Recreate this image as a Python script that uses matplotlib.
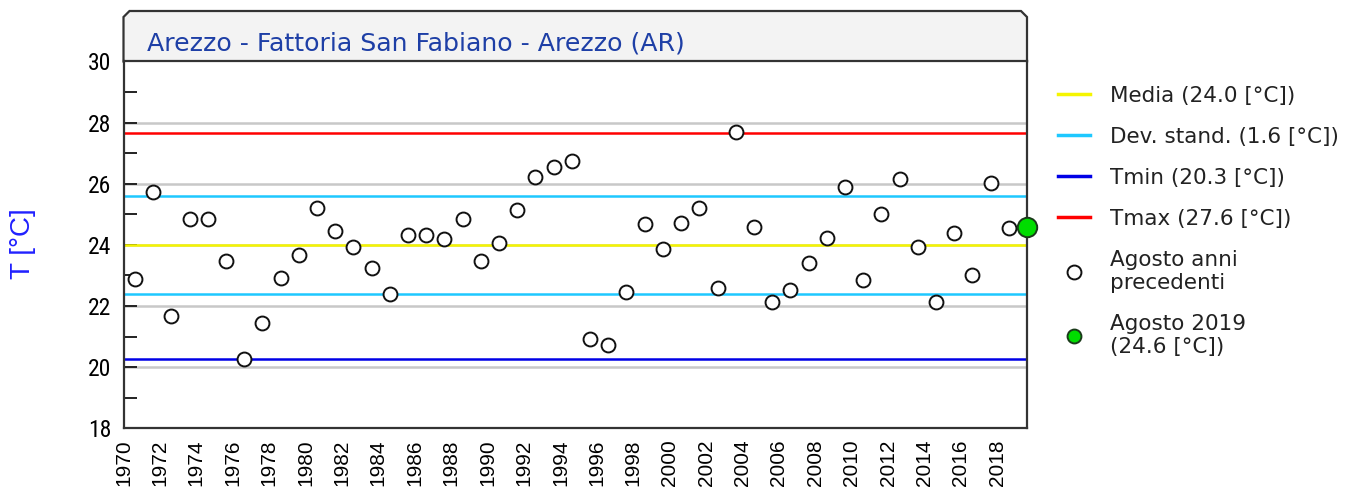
import numpy as np
import matplotlib
matplotlib.use('Agg')
import matplotlib.pyplot as plt
from matplotlib.patches import Polygon
from matplotlib.lines import Line2D

# ── dati ────────────────────────────────────────────────
YEARS = list(range(1970, 2020))
T_AUG = [22.88, 25.73, 21.67, 24.86, 24.86, 23.47, 20.26, 21.46, 22.93, 23.66,
         25.20, 24.47, 23.93, 23.26, 22.40, 24.33, 24.33, 24.20, 24.86, 23.47,
         24.07, 25.13, 26.22, 26.54, 26.73, 20.92, 20.73, 22.46, 24.67, 23.87,
         24.73, 25.21, 22.60, 27.69, 24.60, 22.13, 22.53, 23.40, 24.21, 25.88,
         22.86, 25.00, 26.15, 23.93, 22.13, 24.40, 23.00, 26.02, 24.55]
T_2019 = 24.60
MEDIA = 24.0
DEV_STD = 1.6
TMIN = 20.26
TMAX = 27.67

TITLE = 'Arezzo - Fattoria San Fabiano - Arezzo (AR)'
LABELS = ['Media (24.0 [°C])', 'Dev. stand. (1.6 [°C])', 'Tmin (20.3 [°C])',
          'Tmax (27.6 [°C])', 'Agosto anni\nprecedenti', 'Agosto 2019\n(24.6 [°C])']
X_TICKS = list(range(1970, 2019, 2))
Y_TICKS = list(range(18, 31, 2))

# posizione del punto: metà agosto
OFFSET = 0.63

C_MEDIA = '#f5f500'
C_STD = '#1ec8ff'
C_MIN = '#0000e6'
C_MAX = '#ff0000'
C_NOW = '#00dd00'

W, H = 1355, 494
fig = plt.figure(figsize=(W / 100, H / 100), dpi=100)

ax_l, ax_r, ax_t, ax_b = 123.5, 1027, 61.5, 428.3
ax = fig.add_axes([ax_l / W, 1 - ax_b / H, (ax_r - ax_l) / W, (ax_b - ax_t) / H])
ax.set_zorder(2)

# ── riquadro del titolo (angoli smussati) ──────────────
x0, x1 = ax_l / W, ax_r / W
y0, y1 = 1 - ax_t / H, 1 - 11 / H
cx, cy = 6 / W, 6 / H
box = Polygon([(x0, y0), (x0, y1 - cy), (x0 + cx, y1), (x1 - cx, y1), (x1, y1 - cy), (x1, y0)],
              closed=True, transform=fig.transFigure, facecolor='#f3f3f3',
              edgecolor='#333333', linewidth=1.6, zorder=1)
fig.patches.append(box)
fig.text(147 / W, 1 - 44 / H, TITLE, color='#1e3fa6', fontsize=18.2,
         family='DejaVu Sans', va='center', ha='left')

# ── griglia e linee di riferimento ─────────────────────
for v in Y_TICKS[1:-1]:
    ax.axhline(v, color='#c8c8c8', linewidth=1.8, zorder=1)

ax.axhline(MEDIA, color=C_MEDIA, linewidth=1.8, zorder=2)
ax.axhline(MEDIA + DEV_STD, color=C_STD, linewidth=1.8, zorder=2)
ax.axhline(MEDIA - DEV_STD, color=C_STD, linewidth=1.8, zorder=2)
ax.axhline(TMIN, color=C_MIN, linewidth=1.8, zorder=2)
ax.axhline(TMAX, color=C_MAX, linewidth=1.8, zorder=2)

xs = np.array(YEARS[:-1]) + OFFSET
ax.plot(xs, T_AUG, 'o', ms=10, mfc='white', mec='#111111', mew=1.4,
        linestyle='none', zorder=3)
ax.plot([YEARS[-1] + OFFSET], [T_2019], 'o', ms=14, mfc=C_NOW,
        mec='#1a3a1a', mew=1.4, linestyle='none', zorder=4, clip_on=False)

ax.set_xlim(1970, 2019 + OFFSET)
ax.set_ylim(18, 30)
ax.set_xticks(X_TICKS)
ax.set_xticklabels([str(y) for y in X_TICKS], rotation=90, family='Liberation Sans',
                   fontsize=15)
ax.set_yticks(Y_TICKS)
ax.set_yticks(list(range(19, 30, 2)), minor=True)
ax.set_yticklabels([str(v) for v in Y_TICKS], family='Roboto Condensed', fontsize=17)
ax.tick_params(axis='x', length=0, pad=8)
ax.tick_params(axis='y', which='both', direction='in', length=9, width=1.4, pad=9,
               color='#222222')

for side in ['left', 'right', 'bottom', 'top']:
    ax.spines[side].set_color('#333333')
    ax.spines[side].set_linewidth(1.6)

fig.text(23 / W, 1 - 244 / H, 'T [°C]', rotation=90, color='#2020ff', fontsize=20,
         family='Liberation Sans', va='center', ha='center')

# ── legenda ────────────────────────────────────────────
handles = [Line2D([], [], color=C_MEDIA, lw=2.5),
           Line2D([], [], color=C_STD, lw=2.5),
           Line2D([], [], color=C_MIN, lw=2.5),
           Line2D([], [], color=C_MAX, lw=2.5),
           Line2D([], [], marker='o', ms=10, mfc='white', mec='#111111', mew=1.4, ls='none'),
           Line2D([], [], marker='o', ms=10, mfc=C_NOW, mec='#1a3a1a', mew=1.4, ls='none')]
fig.legend(handles, LABELS, loc='upper left', bbox_to_anchor=(1058 / W, 1 - 86 / H),
           frameon=False, prop={'family': 'DejaVu Sans', 'size': 15.5},
           borderpad=0, borderaxespad=0,
           handlelength=1.5, handletextpad=0.93, labelspacing=0.97, labelcolor='#222222')

fig.savefig('out.png', dpi=100)
